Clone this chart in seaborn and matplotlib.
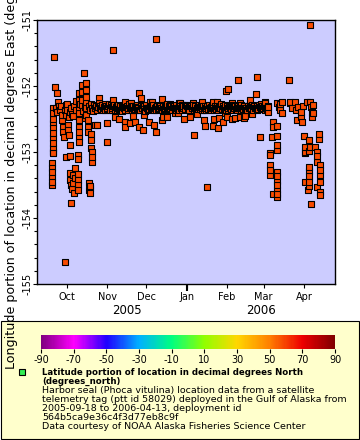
import numpy as np
import pandas as pd
import matplotlib
matplotlib.use("Agg")
import matplotlib.pyplot as plt
import matplotlib.dates as mdates
from matplotlib.colors import LinearSegmentedColormap, Normalize
from matplotlib.patches import Rectangle
from matplotlib.lines import Line2D
from matplotlib.ticker import MultipleLocator, NullFormatter
import seaborn as sns

plt.rcParams["axes.unicode_minus"] = False

# =========================
# DATA (days since deployment start, longitude deg E)
# =========================

start = pd.Timestamp("2005-09-18")

early_days = [
    1.8, 1.8, 1.9, 1.8, 1.9, 1.8,
    2.3, 2.4, 2.5, 2.5, 2.4, 2.5, 2.6, 2.5, 2.6, 2.5, 2.6,
    3.1, 3.8, 5.4, 6.4, 7.9, 7.2,
    9.4, 10.2, 10.5, 11.0, 9.8,
    12.5, 13.0, 12.8, 14.0, 14.2, 14.5, 15.6, 15.6,
    12.5, 15.6, 21.5, 21.5, 19.2, 15.6, 17.9, 21.5, 19.4, 15.6,
    21.5, 17.9, 16.3, 21.5, 17.1, 21.5, 18.6, 16.3, 11.7,
    22.2, 22.2, 22.3, 22.2, 22.3, 22.2, 22.3, 22.2, 22.3,
    24.8, 24.8, 24.9, 24.8, 26.3,
    28.1, 28.1, 28.2, 28.1, 28.2, 28.1, 29.4, 29.4, 29.5,
    31.5, 31.7, 31.8, 32.2, 32.3, 32.2,
    30.1, 30.9, 30.1, 31.2, 30.6,
    34.7, 37.6, 37.8, 43.7, 43.9, 48.3,
    5.0, 6.0, 8.5, 11.5, 13.5, 16.5, 17.5, 19.0, 20.5, 23.5,
    25.8, 27.0, 29.8, 30.7, 31.5, 32.6, 33.4, 34.1, 35.0, 35.8,
    36.6, 37.3, 18.2, 20.0, 14.8, 26.8,
]
early_lon = [
    -153.17, -153.24, -153.30, -153.38, -153.45, -153.50,
    -153.00, -152.33, -152.41, -152.50, -152.56, -152.64, -152.71, -152.79, -152.86, -152.94, -153.02,
    -151.56, -152.01, -152.10, -152.24, -152.36, -152.30,
    -152.52, -152.62, -152.70, -152.77, -152.44,
    -152.29, -152.36, -152.44, -152.59, -152.67, -152.74, -152.89, -152.39,
    -153.08, -153.06, -153.05, -153.10, -153.24, -153.32, -153.35, -153.33, -153.39, -153.42,
    -153.42, -153.47, -153.50, -153.50, -153.56, -153.58, -153.62, -153.77, -154.66,
    -152.11, -152.21, -152.32, -152.41, -152.52, -152.62, -152.70, -152.77, -152.85,
    -151.98, -152.09, -152.21, -152.29, -151.80,
    -151.95, -152.06, -152.17, -152.24, -152.33, -152.44, -152.52, -152.62, -152.70,
    -152.72, -152.82, -152.94, -153.00, -153.08, -153.15,
    -153.47, -153.52, -153.58, -153.62, -153.55,
    -152.59, -152.18, -152.26, -152.56, -152.85, -151.45,
    -152.34, -152.40, -152.31, -152.37, -152.27, -152.33, -152.42, -152.30, -152.36, -152.28,
    -152.38, -152.32, -152.30, -152.36, -152.27, -152.33, -152.38, -152.29, -152.34, -152.31,
    -152.37, -152.32, -152.45, -152.22, -152.47, -152.49,
]

band_days = [
    38.3, 39.5, 40.4, 41.6, 42.3, 43.5, 44.2, 45.6, 46.3, 47.5,
    48.1, 49.4, 50.2, 51.3, 52.1, 53.4, 54.0, 55.2, 56.1, 57.3,
    58.0, 59.2, 60.3, 61.0, 62.4, 63.1, 64.2, 65.3, 66.0, 67.2,
    68.1, 69.4, 70.2, 71.1, 72.3, 73.0, 74.2, 75.3, 76.1, 77.4,
    78.2, 79.0, 80.3, 81.2, 82.1, 83.3, 84.0, 85.4, 86.2, 87.1,
    88.3, 89.0, 90.2, 91.3, 92.1, 93.4, 94.0, 95.2, 96.3, 97.1,
    98.2, 99.0, 100.3, 101.2, 102.1, 103.4, 104.0, 105.3, 106.1, 107.2,
    108.4, 109.0, 110.2, 111.3, 112.1, 113.4, 114.2, 115.0, 116.3, 117.1,
    118.4, 119.2, 120.0, 121.3, 122.1, 123.4, 124.2, 125.1, 126.3, 127.0,
    128.2, 129.4, 130.1, 131.3, 132.0, 133.2, 134.4, 135.1, 136.3, 137.0,
    138.2, 139.1, 140.3, 141.2, 142.0, 143.4, 144.1, 145.3, 146.2, 147.0,
    148.3, 149.1, 150.4, 151.2, 152.0, 153.3, 154.1, 155.4, 156.2, 157.0,
    158.3, 159.2, 160.1, 161.4, 162.2, 163.0, 164.3, 165.1, 166.4, 167.2,
]
band_lon = [
    -152.31, -152.35, -152.29, -152.34, -152.37, -152.30, -152.33, -152.28, -152.36, -152.32,
    -152.34, -152.29, -152.37, -152.31, -152.33, -152.35, -152.30, -152.38, -152.32, -152.29,
    -152.36, -152.31, -152.34, -152.28, -152.33, -152.37, -152.30, -152.35, -152.32, -152.29,
    -152.33, -152.36, -152.30, -152.34, -152.31, -152.38, -152.29, -152.33, -152.35, -152.31,
    -152.30, -152.34, -152.37, -152.32, -152.29, -152.35, -152.31, -152.33, -152.36, -152.30,
    -152.34, -152.31, -152.28, -152.35, -152.33, -152.30, -152.37, -152.32, -152.34, -152.29,
    -152.33, -152.36, -152.31, -152.29, -152.34, -152.32, -152.35, -152.30, -152.33, -152.37,
    -152.31, -152.34, -152.29, -152.33, -152.36, -152.30, -152.32, -152.35, -152.31, -152.34,
    -152.37, -152.30, -152.33, -152.35, -152.29, -152.32, -152.34, -152.31, -152.36, -152.33,
    -152.30, -152.34, -152.32, -152.28, -152.35, -152.31, -152.33, -152.37, -152.30, -152.34,
    -152.32, -152.35, -152.29, -152.33, -152.31, -152.36, -152.30, -152.34, -152.32, -152.29,
    -152.35, -152.31, -152.33, -152.37, -152.30, -152.34, -152.32, -152.29, -152.36, -152.31,
    -152.33, -152.30, -152.35, -152.32, -152.28, -152.34, -152.31, -152.36, -152.33, -152.30,
]

band2_days = [
    38.8, 39.9, 41.0, 42.0, 42.8, 44.0, 44.9, 45.9, 46.8, 47.8,
    48.7, 49.9, 50.7, 51.8, 52.7, 53.7, 54.6, 55.6, 56.7, 57.7,
    58.6, 59.7, 60.7, 61.6, 62.8, 63.7, 64.6, 65.7, 66.6, 67.6,
    68.7, 69.8, 70.7, 71.6, 72.7, 73.6, 74.8, 75.7, 76.7, 77.8,
    78.6, 79.6, 80.8, 81.7, 82.6, 83.7, 84.6, 85.8, 86.7, 87.6,
    88.8, 89.6, 90.7, 91.8, 92.6, 93.8, 94.6, 95.7, 96.8, 97.6,
    98.7, 99.6, 100.8, 101.7, 102.6, 103.8, 104.6, 105.8, 106.7, 107.7,
    108.8, 109.6, 110.7, 111.8, 112.6, 113.8, 114.7, 115.6, 116.8, 117.7,
    118.8, 119.7, 120.6, 121.8, 122.7, 123.8, 124.6, 125.6, 126.8, 127.6,
    128.7, 129.8, 130.7, 131.8, 132.6, 133.7, 134.8, 135.7, 136.8, 137.6,
    138.7, 139.6, 140.8, 141.7, 142.6, 143.8, 144.7, 145.8, 146.7, 147.6,
    148.8, 149.7, 150.8, 151.7, 152.6, 153.8, 154.7, 155.8, 156.7, 157.6,
    158.8, 159.7, 160.7, 161.8, 162.7, 163.6, 164.8, 165.7, 166.8, 167.7,
]
band2_lon = [
    -152.33, -152.30, -152.36, -152.32, -152.28, -152.35, -152.31, -152.34, -152.29, -152.37,
    -152.30, -152.35, -152.32, -152.36, -152.29, -152.33, -152.37, -152.31, -152.34, -152.30,
    -152.32, -152.37, -152.29, -152.34, -152.31, -152.33, -152.36, -152.30, -152.35, -152.32,
    -152.36, -152.30, -152.33, -152.29, -152.35, -152.32, -152.34, -152.37, -152.31, -152.33,
    -152.35, -152.29, -152.33, -152.36, -152.31, -152.34, -152.30, -152.37, -152.32, -152.35,
    -152.30, -152.34, -152.36, -152.31, -152.29, -152.35, -152.32, -152.30, -152.37, -152.33,
    -152.35, -152.31, -152.34, -152.37, -152.30, -152.33, -152.29, -152.36, -152.32, -152.31,
    -152.34, -152.30, -152.36, -152.31, -152.33, -152.35, -152.29, -152.32, -152.37, -152.30,
    -152.33, -152.36, -152.31, -152.29, -152.34, -152.37, -152.30, -152.33, -152.31, -152.35,
    -152.36, -152.30, -152.33, -152.35, -152.31, -152.34, -152.29, -152.32, -152.36, -152.30,
    -152.34, -152.31, -152.36, -152.30, -152.35, -152.32, -152.34, -152.29, -152.37, -152.33,
    -152.30, -152.34, -152.36, -152.31, -152.33, -152.29, -152.35, -152.32, -152.30, -152.34,
    -152.36, -152.33, -152.29, -152.35, -152.31, -152.34, -152.30, -152.33, -152.36, -152.32,
]

scatter_days = [
    68.3, 70.0, 76.7, 85.9, 98.9, 92.3, 103.8, 81.3, 136.5, 135.0,
    144.2, 158.7, 158.0, 153.8, 48.8, 57.7, 78.2, 99.9, 116.6, 125.5,
    128.0, 165.0, 62.0, 110.0, 140.0, 146.0,
    36.0, 57.5, 57.5, 61.6, 65.4, 68.5, 71.3, 75.9, 79.8, 81.3,
    86.1, 90.0, 98.2, 102.8, 50.3, 53.1, 110.4, 118.6, 118.9, 125.2,
    125.8, 129.1, 132.9, 134.2, 130.1, 139.8, 142.3, 148.8, 161.0, 107.8,
    87.1, 96.0, 135.7, 145.9, 149.8, 120.4, 64.1, 72.0, 113.0, 155.0,
]
scatter_lon = [
    -152.11, -152.18, -152.24, -152.19, -152.26, -152.27, -152.29, -151.29, -152.05, -152.08,
    -151.91, -151.87, -152.12, -152.21, -152.21, -152.24, -152.24, -152.26, -152.24, -152.24,
    -152.24, -152.24, -152.25, -152.25, -152.25, -152.26,
    -152.59, -152.54, -152.62, -152.56, -152.54, -152.62, -152.67, -152.54, -152.59, -152.69,
    -152.52, -152.47, -152.41, -152.50, -152.47, -152.50, -152.74, -152.52, -152.61, -152.61,
    -152.50, -152.63, -152.54, -152.41, -152.49, -152.50, -152.48, -152.48, -152.78, -152.47,
    -152.47, -152.41, -152.47, -152.47, -152.45, -153.53, -152.46, -152.44, -152.43, -152.42,
]

late_days = [
    165.1, 166.0, 167.4, 174.3, 175.5, 176.6, 178.1, 177.0, 183.5, 199.6,
    184.3, 188.1, 190.4, 194.0, 192.7, 192.7, 189.7, 193.5, 185.8, 188.9,
    178.0, 184.3, 197.0, 199.8, 200.6, 201.2, 200.9, 202.0, 201.9,
    171.2, 171.2, 174.3, 174.3, 170.5, 174.3, 174.3, 168.7, 168.9,
    168.7, 168.8, 168.7,
    174.1, 174.2, 174.1, 174.2, 174.1, 174.2, 174.1, 171.2,
    194.8, 198.6, 206.8, 206.8, 196.0, 199.4, 203.2, 205.0, 196.0, 195.6, 198.6,
    199.1, 199.0, 199.1, 199.2, 199.1, 196.0, 198.1, 200.4,
    205.0, 205.0, 204.8,
    207.2, 207.3, 207.2, 207.3, 207.2, 207.3,
]
late_lon = [
    -152.26, -152.33, -152.39, -152.26, -152.32, -152.36, -152.41, -152.28, -151.91, -151.07,
    -152.26, -152.24, -152.32, -152.30, -152.39, -152.47, -152.52, -152.55, -152.33, -152.36,
    -152.24, -152.24, -152.24, -152.24, -152.32, -152.39, -152.47, -152.41, -152.29,
    -152.54, -152.62, -152.60, -152.75, -152.78, -152.89, -152.97, -153.02, -153.04,
    -153.20, -153.27, -153.35,
    -153.31, -153.37, -153.44, -153.50, -153.57, -153.63, -153.68, -153.63,
    -152.76, -152.82, -152.73, -152.80, -152.92, -152.92, -152.92, -153.00, -153.00, -153.02, -152.98,
    -153.22, -153.29, -153.37, -153.45, -153.52, -153.45, -153.57, -153.79,
    -153.06, -153.15, -153.53,
    -153.20, -153.27, -153.35, -153.45, -153.60, -153.65,
]

seal_lat = 58.0

cbar_ticks = [-90, -70, -50, -30, -10, 10, 30, 50, 70, 90]
cbar_colors = ["#800080", "#ff00ff", "#2000ff", "#00b0ff", "#00ff80",
               "#90ff00", "#ffd700", "#ff8000", "#ee0000", "#800000"]

legend_title = ["Latitude portion of location in decimal degrees North",
                "(degrees_north)"]
legend_lines = [
    "Harbor seal (Phoca vitulina) location data from a satellite",
    "telemetry tag (ptt id 58029) deployed in the Gulf of Alaska from",
    "2005-09-18 to 2006-04-13, deployment id",
    "564b5ca9e36c4f3d77eb8c9f",
    "Data courtesy of NOAA Alaska Fisheries Science Center",
]
y_label = "Longitude portion of location in decimal degrees East (degrees_east)"

# =========================
# BUILD TABLE
# =========================

days = early_days + band_days + band2_days + scatter_days + late_days
lons = early_lon + band_lon + band2_lon + scatter_lon + late_lon
assert len(days) == len(lons)

df = pd.DataFrame({
    "time": start + pd.to_timedelta(days, unit="D"),
    "lon": lons
}).sort_values("time")

cmap = LinearSegmentedColormap.from_list(
    "rainbow2",
    list(zip(np.linspace(0, 1, len(cbar_colors)), cbar_colors))
)
norm = Normalize(-90, 90)
point_color = cmap(norm(seal_lat))

# =========================
# FIGURE
# =========================

fig = plt.figure(figsize=(3.6, 4.4), dpi=100)
W, H = 360, 440

ax = fig.add_axes([37 / W, 1 - 284 / H, 298 / W, 264 / H])
ax.set_facecolor("#ccccff")

sns.scatterplot(
    data=df,
    x="time",
    y="lon",
    marker="s",
    s=20,
    color=point_color,
    edgecolor="black",
    linewidth=0.8,
    legend=False,
    ax=ax
)

ax.set_xlim(pd.Timestamp("2005-09-08 07:00"), pd.Timestamp("2006-04-24 19:00"))
ax.set_ylim(-155, -151)

for sp in ax.spines.values():
    sp.set_linewidth(1.0)
    sp.set_color("black")

# x axis: month labels, bigger tick at new year
ax.xaxis.set_major_locator(mdates.YearLocator())
ax.xaxis.set_major_formatter(NullFormatter())
ax.xaxis.set_minor_locator(mdates.MonthLocator())
ax.xaxis.set_minor_formatter(mdates.DateFormatter("%b"))
ax.xaxis.remove_overlapping_locs = False
ax.tick_params(axis="x", which="major", length=5, width=1.5)
ax.tick_params(axis="x", which="minor", length=3, width=0.8,
               labelsize=7, pad=2.5)

ax.yaxis.set_major_locator(MultipleLocator(1))
ax.yaxis.set_minor_locator(MultipleLocator(0.2))
ax.tick_params(axis="y", which="major", length=3, width=0.8,
               labelsize=7, pad=0.5)
ax.tick_params(axis="y", which="minor", length=2, width=0.8)
for lab in ax.get_yticklabels():
    lab.set_rotation(90)
    lab.set_va("center")

ax.set_xlabel("")
ax.set_ylabel(y_label, fontsize=9.1)
ax.yaxis.set_label_coords(-0.065, 0.511)

ax.text(0.302, -0.102, "2005", transform=ax.transAxes,
        ha="center", va="center", fontsize=8.5)
ax.text(0.752, -0.102, "2006", transform=ax.transAxes,
        ha="center", va="center", fontsize=8.5)

# =========================
# LEGEND BOX
# =========================

fig.patches.append(Rectangle(
    (0.5 / W, 1 / H), 358 / W, (439 - 321) / H,
    transform=fig.transFigure, facecolor="#ffffcc",
    edgecolor="black", linewidth=0.8, zorder=-1
))

cax = fig.add_axes([41 / W, 1 - 349 / H, 294 / W, 14 / H])
sm = plt.cm.ScalarMappable(norm=norm, cmap=cmap)
cb = fig.colorbar(sm, cax=cax, orientation="horizontal", ticks=cbar_ticks)
cb.outline.set_visible(False)
cax.tick_params(length=3, width=0.8, labelsize=7, pad=1.5)

fig.add_artist(Line2D(
    [21.6 / W], [1 - 372 / H], marker="s", markersize=4.5,
    markerfacecolor="#33ee55", markeredgecolor="black",
    markeredgewidth=0.8, transform=fig.transFigure
))

y = 372
for line in legend_title:
    fig.text(42 / W, 1 - y / H, line, fontsize=6.2, fontweight="bold",
             ha="left", va="center")
    y += 9
for line in legend_lines:
    fig.text(42 / W, 1 - y / H, line, fontsize=6.8,
             ha="left", va="center")
    y += 9

fig.savefig("out.png", dpi=100)
